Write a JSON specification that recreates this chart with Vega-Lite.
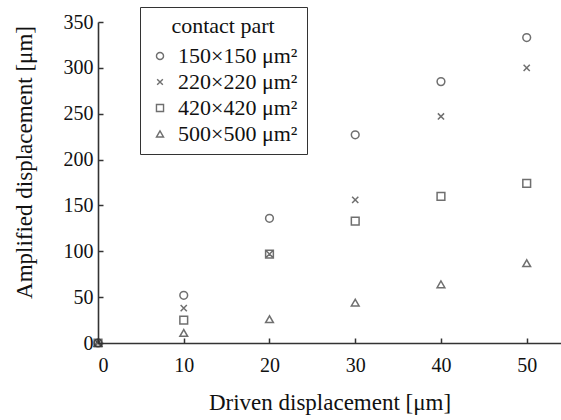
{
  "$schema": "https://vega.github.io/schema/vega-lite/v6.json",
  "autosize": {"type": "none"},
  "width": 463,
  "height": 321,
  "padding": {"left": 98, "top": 22, "right": 0, "bottom": 77},
  "background": "white",
  "config": {
    "view": {"stroke": null},
    "font": "Liberation Serif",
    "axis": {"grid": false, "domainColor": "#333", "tickColor": "#333", "labelColor": "#111", "titleColor": "#111", "labelFont": "Liberation Serif", "titleFont": "Liberation Serif", "labelFontSize": 20, "titleFontWeight": "normal", "domainWidth": 1.6, "tickWidth": 1.5}
  },
  "data": {
    "values": [
      {"x": 0, "y": 0, "part": "150×150 μm²"},
      {"x": 10, "y": 52, "part": "150×150 μm²"},
      {"x": 20, "y": 136, "part": "150×150 μm²"},
      {"x": 30, "y": 227, "part": "150×150 μm²"},
      {"x": 40, "y": 285, "part": "150×150 μm²"},
      {"x": 50, "y": 333, "part": "150×150 μm²"},
      {"x": 0, "y": 0, "part": "220×220 μm²"},
      {"x": 10, "y": 38, "part": "220×220 μm²"},
      {"x": 20, "y": 97, "part": "220×220 μm²"},
      {"x": 30, "y": 156, "part": "220×220 μm²"},
      {"x": 40, "y": 247, "part": "220×220 μm²"},
      {"x": 50, "y": 300, "part": "220×220 μm²"},
      {"x": 0, "y": 0, "part": "420×420 μm²"},
      {"x": 10, "y": 25, "part": "420×420 μm²"},
      {"x": 20, "y": 97, "part": "420×420 μm²"},
      {"x": 30, "y": 133, "part": "420×420 μm²"},
      {"x": 40, "y": 160, "part": "420×420 μm²"},
      {"x": 50, "y": 174, "part": "420×420 μm²"},
      {"x": 0, "y": 0, "part": "500×500 μm²"},
      {"x": 10, "y": 11, "part": "500×500 μm²"},
      {"x": 20, "y": 26, "part": "500×500 μm²"},
      {"x": 30, "y": 44, "part": "500×500 μm²"},
      {"x": 40, "y": 64, "part": "500×500 μm²"},
      {"x": 50, "y": 87, "part": "500×500 μm²"}
    ]
  },
  "mark": {"type": "point", "filled": false, "size": 60, "strokeWidth": 1.5, "color": "#333"},
  "encoding": {
    "x": {"field": "x", "type": "quantitative", "scale": {"domain": [0, 54], "nice": false}, "axis": {"values": [0, 10, 20, 30, 40, 50], "tickSize": -5, "labelPadding": 17, "title": "Driven displacement [μm]", "titleFontSize": 23, "titlePadding": 16}},
    "y": {"field": "y", "type": "quantitative", "scale": {"domain": [0, 350], "nice": false}, "axis": {"values": [0, 50, 100, 150, 200, 250, 300, 350], "tickSize": -5, "labelPadding": 10, "title": "Amplified displacement [μm]", "titleFontSize": 23, "titlePadding": 27, "titleY": 140}},
    "shape": {
      "field": "part", "type": "nominal",
      "scale": {"domain": ["150×150 μm²", "220×220 μm²", "420×420 μm²", "500×500 μm²"], "range": ["circle", "M-0.8,-0.8L0.8,0.8M-0.8,0.8L0.8,-0.8", "square", "triangle-up"]},
      "legend": {"orient": "none", "legendX": 42, "legendY": -15, "title": "contact part", "titleFontSize": 22, "titleFontWeight": "normal", "titleFont": "Liberation Serif", "titleAnchor": "middle", "titlePadding": 7, "labelFont": "Liberation Serif", "labelFontSize": 22, "labelOffset": 7, "symbolSize": 50, "symbolStrokeColor": "#333", "symbolStrokeWidth": 1.4, "strokeColor": "#333", "padding": 9, "rowPadding": 4, "labelColor": "#111", "titleColor": "#111"}
    }
  }
}
